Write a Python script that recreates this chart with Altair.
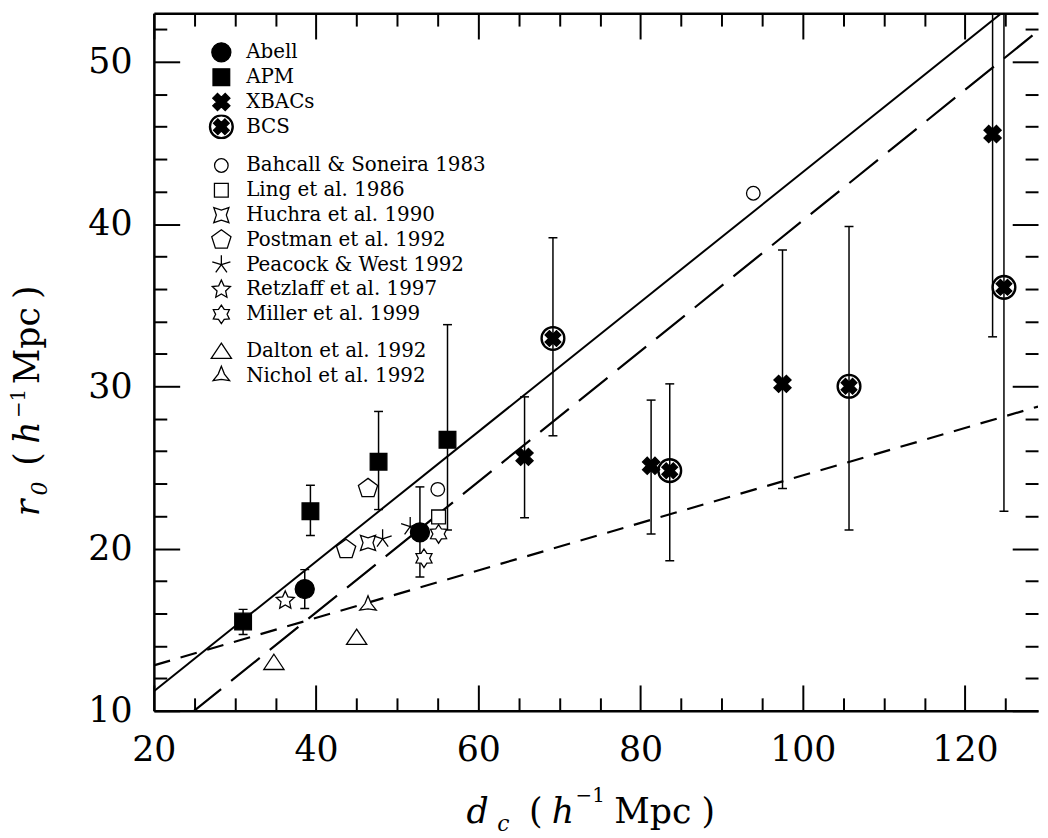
import math
import altair as alt
import pandas as pd

# ---------------- data ----------------
abell_x = [38.6, 52.8]
abell_y = [17.5, 21.0]
abell_lo = [16.3, 18.25]
abell_hi = [18.7, 23.8]

apm_x = [31.0, 39.3, 47.7, 56.2]
apm_y = [15.5, 22.3, 25.35, 26.7]
apm_lo = [14.7, 20.8, 22.4, 21.15]
apm_hi = [16.25, 23.9, 28.45, 33.8]

xbacs_x = [65.7, 81.3, 97.5, 123.4]
xbacs_y = [25.65, 25.1, 30.15, 45.55]
xbacs_lo = [21.9, 20.9, 23.7, 33.05]
xbacs_hi = [29.35, 29.15, 38.4, 58.0]

bcs_x = [69.2, 83.6, 105.7, 124.8]
bcs_y = [32.95, 24.8, 30.0, 36.1]
bcs_lo = [26.95, 19.25, 21.15, 22.3]
bcs_hi = [39.15, 30.15, 39.85, 60.0]

bahcall_x = [55.0, 93.9]
bahcall_y = [23.65, 41.9]
ling_x = [55.1]
ling_y = [21.95]
huchra_x = [46.4]
huchra_y = [20.35]
postman_x = [43.7, 46.4]
postman_y = [19.95, 23.7]
peacock_x = [48.2, 51.6]
peacock_y = [20.6, 21.35]
retzlaff_x = [36.2]
retzlaff_y = [16.8]
miller_x = [53.3, 55.1]
miller_y = [19.4, 20.9]
dalton_x = [34.8, 45.0]
dalton_y = [13.0, 14.55]
nichol_x = [46.4]
nichol_y = [16.5]

fit_x = [20, 129]
solid_y = [11.2, 54.8]
long_dash_y = [8.0, 51.9]
short_dash_y = [12.8, 28.75]

x_major = [20, 40, 60, 80, 100, 120]
x_minor = [25, 30, 35, 45, 50, 55, 65, 70, 75, 85, 90, 95, 105, 110, 115, 125]
y_major = [10, 20, 30, 40, 50]
y_minor = [12, 14, 16, 18, 22, 24, 26, 28, 32, 34, 36, 38, 42, 44, 46, 48, 52]

group1 = ["Abell", "APM", "XBACs", "BCS"]
group2 = ["Bahcall & Soneira 1983", "Ling et al. 1986", "Huchra et al. 1990",
          "Postman et al. 1992", "Peacock & West 1992", "Retzlaff et al. 1997",
          "Miller et al. 1999"]
group3 = ["Dalton et al. 1992", "Nichol et al. 1992"]

# ---------------- symbol geometry ----------------
def poly(pts):
    return "M" + " L".join(f"{x:.3f},{y:.3f}" for x, y in pts) + " Z"

def circ(r, sweep=1):
    return (f"M{-r},0 A{r},{r} 0 1,{sweep} {r},0 "
            f"A{r},{r} 0 1,{sweep} {-r},0 Z")

def star(n, R, r, rot=-90.0):
    pts = []
    for k in range(2 * n):
        rad = R if k % 2 == 0 else r
        a = math.radians(rot + 180.0 * k / n)
        pts.append((rad * math.cos(a), rad * math.sin(a)))
    return poly(pts)

def regular(n, R, rot=-90.0):
    return poly([(R * math.cos(math.radians(rot + 360.0 * k / n)),
                  R * math.sin(math.radians(rot + 360.0 * k / n))) for k in range(n)])

def xshape(a, d):
    base = [(-1, -1 + d), (-1 + d, -1), (0, -d), (1 - d, -1), (1, -1 + d), (d, 0),
            (1, 1 - d), (1 - d, 1), (0, d), (-1 + d, 1), (-1, 1 - d), (-d, 0)]
    return poly([(a * x, a * y) for x, y in base])

def skeletal(n, R, rot=-90.0):
    s = ""
    for k in range(n):
        a = math.radians(rot + 360.0 * k / n)
        s += f"M0,0 L{R * math.cos(a):.3f},{R * math.sin(a):.3f} "
    return s.strip()

shapes1 = [circ(0.8), poly([(-0.7, -0.7), (0.7, -0.7), (0.7, 0.7), (-0.7, 0.7)]),
           xshape(0.72, 0.55), circ(1.0) + " " + circ(0.91, 0) + " " + xshape(0.66, 0.55)]
fills1 = ["black", "black", "black", "black"]
shapes2 = [circ(0.57),
           poly([(-0.58, -0.58), (0.58, -0.58), (0.58, 0.58), (-0.58, 0.58)]),
           star(4, 0.9, 0.42, rot=-135),
           regular(5, 0.85),
           skeletal(5, 0.8),
           star(5, 0.8, 0.38),
           star(6, 0.78, 0.48)]
fills2 = ["white", "white", "white", "white", "transparent", "white", "white"]
shapes3 = [poly([(0, -0.66), (0.85, 0.62), (-0.85, 0.62)]),
           star(3, 0.8, 0.3)]
fills3 = ["white", "white"]

# ---------------- tables ----------------
def table(pairs):
    rows = []
    for name, xs, ys in pairs:
        for x, y in zip(xs, ys):
            rows.append({"x": x, "y": y, "survey": name})
    return pd.DataFrame(rows)

pts1 = table([("Abell", abell_x, abell_y), ("APM", apm_x, apm_y),
              ("XBACs", xbacs_x, xbacs_y), ("BCS", bcs_x, bcs_y)])
pts2 = table([(group2[0], bahcall_x, bahcall_y), (group2[1], ling_x, ling_y),
              (group2[2], huchra_x, huchra_y), (group2[3], postman_x, postman_y),
              (group2[4], peacock_x, peacock_y), (group2[5], retzlaff_x, retzlaff_y),
              (group2[6], miller_x, miller_y)])
pts3 = table([(group3[0], dalton_x, dalton_y), (group3[1], nichol_x, nichol_y)])

err = pd.DataFrame({
    "x": abell_x + apm_x + xbacs_x + bcs_x,
    "lo": abell_lo + apm_lo + xbacs_lo + bcs_lo,
    "hi": abell_hi + apm_hi + xbacs_hi + bcs_hi,
})
fits = pd.DataFrame({"x": fit_x * 3, "y": solid_y + long_dash_y + short_dash_y,
                     "fit": ["solid"] * 2 + ["long"] * 2 + ["short"] * 2})

# ---------------- layout ----------------
W, H = 891, 703
FONT = "DejaVu Serif"
XS = alt.Scale(domain=[20, 129], nice=False, zero=False)
YS = alt.Scale(domain=[10, 53], nice=False, zero=False)

def tick_axis(orient, offset, values, size, domain=False):
    return alt.Axis(orient=orient, offset=offset, values=values, tickSize=size,
                    tickWidth=2, tickColor="black", labels=False, domain=domain,
                    domainColor="black", domainWidth=2.5, grid=False, title=None)

xa_labels = alt.Axis(orient="bottom", values=x_major, ticks=False, labelFont=FONT,
                     labelFontSize=35, labelColor="black", labelPadding=22,
                     labelFlush=False, domain=True, domainColor="black",
                     domainWidth=2.5, grid=False, title=None)
ya_labels = alt.Axis(orient="left", values=y_major, ticks=False, labelFont=FONT,
                     labelFontSize=35, labelColor="black", labelPadding=22,
                     labelFlush=False, domain=True, domainColor="black",
                     domainWidth=2.5, grid=False, title=None)

def fit_layer(name, dash, xaxis, yaxis, width=2.0):
    mk = dict(color="black", strokeWidth=width, clip=True)
    if dash:
        mk["strokeDash"] = dash
    return alt.Chart(fits).transform_filter(alt.datum.fit == name).mark_line(**mk).encode(
        x=alt.X("x:Q", scale=XS, axis=xaxis),
        y=alt.Y("y:Q", scale=YS, axis=yaxis),
    )

solid = fit_layer("solid", None, xa_labels, ya_labels, 2.0)
longd = fit_layer("long", [37, 13], tick_axis("top", -H, x_major, 26),
                  tick_axis("right", -W, y_major, 26), 2.2)
shortd = fit_layer("short", [17, 11], tick_axis("top", -H, x_minor, 13),
                   tick_axis("right", -W, y_minor, 13), 2.2)

bars = alt.Chart(err).mark_rule(color="black", strokeWidth=1.5, clip=True).encode(
    x=alt.X("x:Q", scale=XS, axis=tick_axis("bottom", -H, x_major, 26, domain=True)),
    y=alt.Y("lo:Q", scale=YS, axis=tick_axis("left", -W, y_major, 26)),
    y2="hi:Q",
)
caps_lo = alt.Chart(err).mark_tick(orient="horizontal", size=9, thickness=1.5,
                                   color="black", opacity=1, clip=True).encode(
    x=alt.X("x:Q", scale=XS, axis=tick_axis("bottom", -H, x_minor, 13)),
    y=alt.Y("lo:Q", scale=YS, axis=tick_axis("left", -W, y_minor, 13)),
)
caps_hi = alt.Chart(err).mark_tick(orient="horizontal", size=9, thickness=1.5,
                                   color="black", opacity=1, clip=True).encode(
    x=alt.X("x:Q", scale=XS, axis=None),
    y=alt.Y("hi:Q", scale=YS, axis=None),
)

def point_layer(df, domain, shapes, fills, lx, ly):
    leg = alt.Legend(orient="none", legendX=lx, legendY=ly, title=None,
                     labelFont=FONT, labelFontSize=20, labelColor="black",
                     symbolSize=576, symbolStrokeColor="black",
                     symbolStrokeWidth=1.3, rowPadding=0, clipHeight=25,
                     labelOffset=12, symbolOffset=4, padding=0, labelLimit=500)
    return alt.Chart(df).mark_point(filled=True, strokeWidth=1.3,
                                    size=576, opacity=1).encode(
        x=alt.X("x:Q", scale=XS, axis=None),
        y=alt.Y("y:Q", scale=YS, axis=None),
        shape=alt.Shape("survey:N", scale=alt.Scale(domain=domain, range=shapes), legend=leg),
        fill=alt.Fill("survey:N", scale=alt.Scale(domain=domain, range=fills), legend=leg),
        stroke=alt.Stroke("survey:N", scale=alt.Scale(domain=domain, range=["black"] * len(domain)),
                          legend=leg),
    )

p3 = point_layer(pts3, group3, shapes3, fills3, 51, 328)
p2 = point_layer(pts2, group2, shapes2, fills2, 51, 141)
p1 = point_layer(pts1, group1, shapes1, fills1, 51, 27)

dummy = pd.DataFrame({"k": [0]})

def piece(text, x, y, size=35, italic=False, angle=0):
    mk = dict(text=text, font=FONT, fontSize=size, align="left",
              baseline="alphabetic", color="black")
    if italic:
        mk["fontStyle"] = "italic"
    if angle:
        mk["angle"] = angle
    return alt.Chart(dummy).mark_text(**mk).encode(x=alt.value(x), y=alt.value(y))

title_pieces = [
    piece("d", 315, 816, italic=True),
    piece("c", 346, 824, size=22, italic=True),
    piece("(", 378, 816),
    piece("h", 401, 816, italic=True),
    piece("\u22121", 425, 795, size=20),
    piece("Mpc", 464, 816),
    piece(")", 552, 816),
    piece("r", -116, 507, italic=True, angle=270),
    piece("0", -108, 486, size=22, italic=True, angle=270),
    piece("(", -116, 456, angle=270),
    piece("h", -116, 434, italic=True, angle=270),
    piece("\u22121", -130, 408, size=20, angle=270),
    piece("Mpc", -116, 374, angle=270),
    piece(")", -116, 288, angle=270),
]

chart = alt.layer(
    solid, longd, shortd, bars, caps_lo, caps_hi, p3, p2, p1, *title_pieces
).resolve_scale(
    shape="independent", fill="independent", stroke="independent"
).resolve_axis(
    x="independent", y="independent"
).properties(
    width=W, height=H,
    autosize=alt.AutoSizeParams(type="none"),
    padding={"left": 147, "top": 2, "right": 2, "bottom": 125},
    background="white",
).configure(font=FONT).configure_view(stroke=None).configure_legend(
    labelFont=FONT, labelFontSize=20, labelColor="black"
)

chart.save("out.html", embed_options={"renderer": "svg", "actions": False})
